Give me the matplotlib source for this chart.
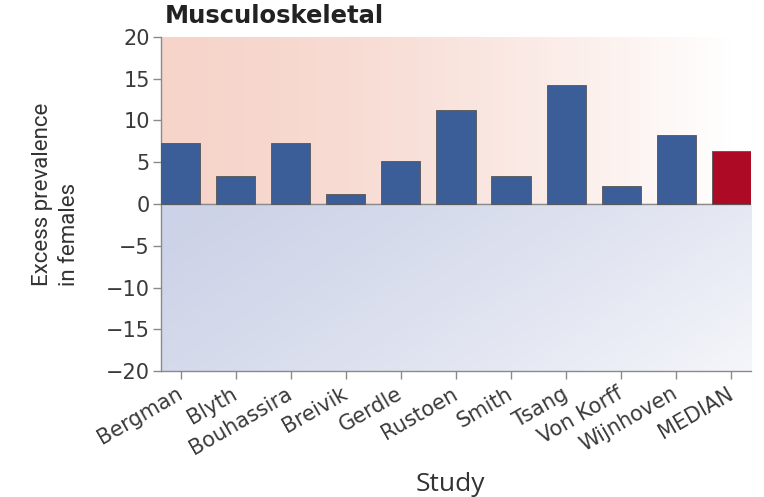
import numpy as np
import matplotlib
matplotlib.use('Agg')
import matplotlib.pyplot as plt
from matplotlib.transforms import ScaledTranslation

# data
studies = ['Bergman', 'Blyth', 'Bouhassira', 'Breivik', 'Gerdle', 'Rustoen',
           'Smith', 'Tsang', 'Von Korff', 'Wijnhoven', 'MEDIAN']
excess = [7.3, 3.35, 7.3, 1.25, 5.15, 11.25, 3.35, 14.2, 2.1, 8.3, 6.3]
yticks = [-20, -15, -10, -5, 0, 5, 10, 15, 20]

bar_blue = '#3b5e98'
bar_red = '#ad0b25'
colors = [bar_blue] * (len(studies) - 1) + [bar_red]

plt.rcParams['font.family'] = ['DejaVu Sans']

fig = plt.figure(figsize=(7.64, 4.97), dpi=100)
ax = fig.add_axes([0.2107, 0.2535, 0.7723, 0.6721])

# background gradient: pink above zero, blue below, fading to white at right
nx, ny = 300, 200
xx = np.linspace(0, 1, nx)[None, :]
yy = np.linspace(0, 1, ny)[:, None]  # 0 = top
pink = np.array([246, 212, 202]) / 255.
blue = np.array([204, 210, 231]) / 255.
white = np.array([1.0, 1.0, 1.0])
img = np.zeros((ny, nx, 3))
top = yy < 0.5
w_top = np.clip(1 - 1.05 * xx ** 1.5, 0, 1)
w_bot = np.clip(1 - 0.8 * (0.7 * xx + 0.3 * (yy - 0.5) * 2) ** 1.3, 0, 1)
for c in range(3):
    cp = white[c] + (pink[c] - white[c]) * w_top
    cb = white[c] + (blue[c] - white[c]) * w_bot
    img[:, :, c] = np.where(top, cp, cb)
ax.imshow(img, extent=[-0.36, 10.36, -20, 20], aspect='auto', zorder=0,
          interpolation='bilinear')

x = np.arange(len(studies))
ax.bar(x, excess, width=0.71, color=colors, edgecolor='#555555', linewidth=0.6, zorder=3)
ax.axhline(0, color='#8a8a8a', linewidth=1.0, zorder=2)

ax.set_xlim(-0.36, 10.36)
ax.set_ylim(-20, 20)
ax.set_yticks(yticks)
ax.set_yticklabels([str(v).replace('-', '\u2212') for v in yticks])
ax.set_xticks(x)
ax.set_xticklabels(studies, rotation=30, ha='right', rotation_mode='anchor')

for s in ['top', 'right']:
    ax.spines[s].set_visible(False)
for s in ['left', 'bottom']:
    ax.spines[s].set_color('#8a8a8a')
    ax.spines[s].set_linewidth(1.0)
ax.tick_params(axis='both', colors='#8a8a8a', labelcolor='#3a3a3a',
               length=6, width=1.0)
ax.tick_params(axis='x', pad=3, labelsize=15)
ax.tick_params(axis='y', pad=2, labelsize=15)

# nudge the rotated labels so their right ends sit under the ticks
shift = ScaledTranslation(-5 / 100, 0, fig.dpi_scale_trans)
for lab in ax.get_xticklabels():
    lab.set_transform(lab.get_transform() + shift)

fig.text(450 / 764, 1 - 491 / 497, 'Study', fontsize=19, color='#333333',
         family=['Open Sans', 'DejaVu Sans'], ha='center', va='baseline')
fig.text(56 / 764, 1 - 194.5 / 497, 'Excess prevalence\nin females', fontsize=16,
         color='#333333', family=['Roboto', 'DejaVu Sans'], rotation=90,
         ha='center', va='center', multialignment='left', linespacing=1.4)
fig.text(165 / 764, 1 - 23 / 497, 'Musculoskeletal', fontsize=17.5,
         fontweight='bold', color='#222222', ha='left', va='baseline')

fig.savefig('out.png', dpi=100)
